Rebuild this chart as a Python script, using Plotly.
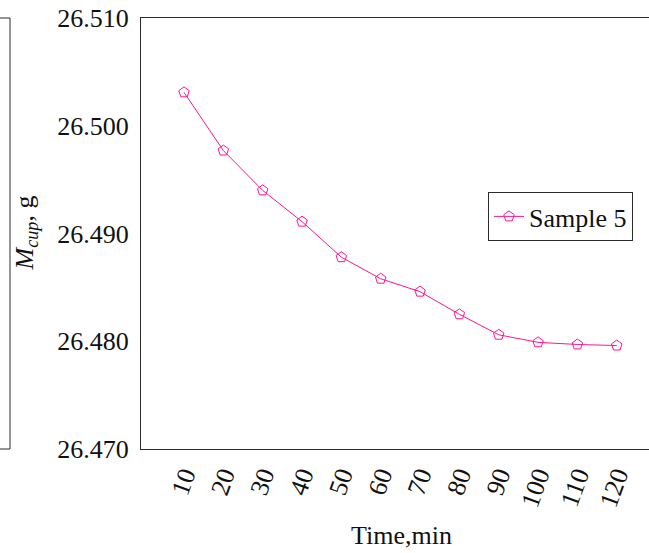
import plotly.graph_objects as go

# Measured cup mass over drying time
time_min = [10, 20, 30, 40, 50, 60, 70, 80, 90, 100, 110, 120]
mass_g = [26.5031, 26.4977, 26.4940, 26.4911, 26.4878, 26.4858,
          26.4846, 26.4825, 26.4806, 26.4799, 26.4797, 26.4796]
series_name = "Sample 5"
y_ticks = [26.470, 26.480, 26.490, 26.500, 26.510]

FONT = "Liberation Serif, DejaVu Serif, serif"
PINK = "#ff1493"
AXIS = "#2b2b2b"

fig = go.Figure()
fig.add_trace(go.Scatter(
    x=time_min, y=mass_g, name=series_name,
    mode="lines+markers",
    line=dict(color=PINK, width=1),
    marker=dict(symbol="pentagon-open", size=11, color=PINK, line=dict(width=1, color=PINK)),
))

fig.update_layout(
    width=649, height=553,
    margin=dict(l=141, r=0, t=18, b=104),
    paper_bgcolor="white", plot_bgcolor="white",
    font=dict(family=FONT, size=26, color="#111"),
    showlegend=True,
    legend=dict(
        x=(633 - 141) / 508, xanchor="right",
        y=(449 - 192) / 431, yanchor="top",
        bordercolor=AXIS, borderwidth=1, bgcolor="white",
        font=dict(family=FONT, size=26, color="#111"),
        itemwidth=30,
    ),
    xaxis=dict(
        range=[-0.93, 128.2],
        tickmode="array", tickvals=time_min, ticktext=[str(t) for t in time_min],
        tickangle=-70, ticks="", showgrid=False, zeroline=False,
        showline=True, linecolor=AXIS, linewidth=1, mirror=True,
        tickfont=dict(family=FONT, size=26),
    ),
    yaxis=dict(
        range=[26.470, 26.510],
        tickmode="array", tickvals=y_ticks, tickformat=".3f",
        ticks="", showgrid=False, zeroline=False,
        showline=True, linecolor=AXIS, linewidth=1,
        tickfont=dict(family=FONT, size=26), ticklabelstandoff=6,
    ),
)

# Axis titles
fig.add_annotation(text="Time,min", xref="paper", yref="paper",
                   x=(401 - 141) / 508, y=0, yshift=-86, yanchor="middle",
                   showarrow=False, font=dict(family=FONT, size=26))
fig.add_annotation(text="<i>M</i><sub><i>cup</i></sub>, g", xref="paper", yref="paper",
                   x=0, xshift=-116, y=0.5, textangle=-90,
                   xanchor="center", yanchor="middle",
                   showarrow=False, font=dict(family=FONT, size=26))

# Edge of the neighbouring panel's frame on the left
x0 = (0 - 141) / 508
x1 = (10 - 141) / 508
fig.add_shape(type="path", xref="paper", yref="paper",
              path=f"M {x0} 1 L {x1} 1 L {x1} 0 L {x0} 0",
              line=dict(color=AXIS, width=1))

fig.write_html("out.html")
